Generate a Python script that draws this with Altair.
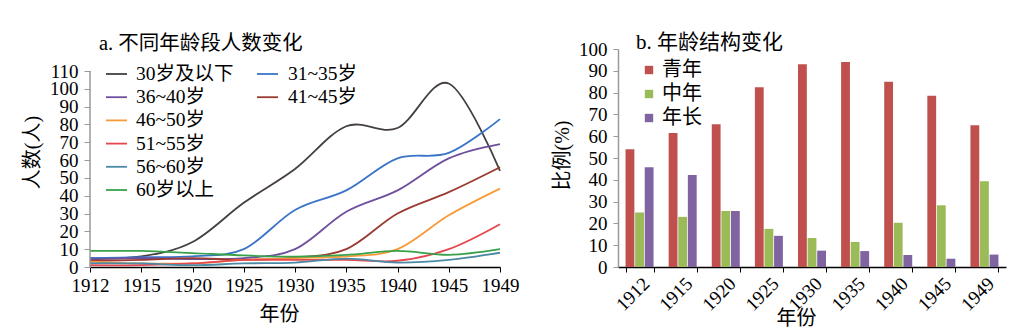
import altair as alt
import pandas as pd

FONT = "Liberation Serif, Noto Sans CJK SC"

# ---------------- data ----------------
years = ["1912", "1915", "1920", "1925", "1930", "1935", "1940", "1945", "1949"]

series_names = ["30岁及以下", "31~35岁", "36~40岁", "41~45岁",
                "46~50岁", "51~55岁", "56~60岁", "60岁以上"]
s_30 = [5, 6, 14, 36, 55, 79, 78, 103, 54]
s_31_35 = [5, 5.5, 6, 10, 32, 43, 61, 64, 83]
s_36_40 = [4.3, 5, 4.5, 5, 10, 31, 43, 61, 69]
s_41_45 = [3.5, 4, 5, 4, 5.3, 10, 30, 42, 56]
s_46_50 = [3, 2, 2, 4, 5, 6, 10, 29, 44]
s_51_55 = [1, 1, 2, 4, 4, 4, 3.5, 10, 24]
s_56_60 = [2.2, 2, 1, 2, 2.5, 4.7, 2.5, 4, 8]
s_60p = [9, 9, 7.8, 6.5, 5.8, 6.8, 9, 6.8, 10]
series_values = [s_30, s_31_35, s_36_40, s_41_45, s_46_50, s_51_55, s_56_60, s_60p]
line_colors = ["#45403E", "#3A74C8", "#6E4F9E", "#9A3A30",
               "#F79A3A", "#E5474E", "#4A8AA6", "#38A24A"]

groups = ["青年", "中年", "年长"]
young = [54, 61.5, 65.5, 82.5, 93, 94, 85, 78.5, 65]
middle = [25, 23, 25.7, 17.5, 13.3, 11.5, 20.3, 28.3, 39.3]
older = [45.8, 42.2, 25.7, 14.3, 7.5, 7.3, 5.5, 3.8, 5.7]
bar_colors = ["#C0504D", "#9BBB59", "#8064A2"]

title_a = "a. 不同年龄段人数变化"
title_b = "b. 年龄结构变化"

Y_MAX_A = 110
PLOT_H = 218
LEFT_AXIS_H = 196  # pixel height of the 0..110 range

# ---------------- tables ----------------
df_lines = pd.DataFrame([
    {"年份": y, "系列": n, "人数": v}
    for n, vals in zip(series_names, series_values)
    for y, v in zip(years, vals)
])

leg_rows = []
for i, n in enumerate(series_names):
    if i < 4:
        col, row = i % 2, i // 2
    else:
        col, row = 0, i - 2
    leg_rows.append({"系列": n, "col": col, "row": row})
df_leg = pd.DataFrame(leg_rows)

df_bars = pd.DataFrame([
    {"年份": y, "组": g, "比例": v}
    for g, vals in zip(groups, [young, middle, older])
    for y, v in zip(years, vals)
])

color_lines = alt.Scale(domain=series_names, range=line_colors)
top_a = Y_MAX_A * PLOT_H / LEFT_AXIS_H
y_ticks_a = list(range(0, Y_MAX_A + 1, 10))

# ---------------- left panel ----------------
x_a = alt.X("年份:O", sort=years, scale=alt.Scale(type="point", padding=0),
            axis=alt.Axis(title="年份", labelAngle=0, labelFontSize=19, labelFont=FONT,
                          labelColor="#000", labelPadding=4, tickSize=5, tickColor="#000",
                          labelOverlap=False, labelAlign="center",
                          domainColor="#000", domainWidth=1.5, titleFont=FONT,
                          titleFontSize=20, titleFontWeight="normal", titleColor="#000",
                          titlePadding=9, titleX=189, titleAlign="center"))
y_a = alt.Y("人数:Q", scale=alt.Scale(domain=[0, top_a], nice=False),
            axis=alt.Axis(title="人数(人)", values=y_ticks_a, tickCount=len(y_ticks_a) + 1,
                          labelFontSize=19, labelFont=FONT, labelColor="#000",
                          labelPadding=6, tickSize=6, labelOverlap=False,
                          tickColor="#999", domain=False,
                          titleFont=FONT, titleFontSize=20, titleFontWeight="normal",
                          titleColor="#000", titlePadding=7, titleY=103))

lines = alt.Chart(df_lines).mark_line(interpolate="cardinal", strokeWidth=1.8).encode(
    x=x_a, y=y_a,
    color=alt.Color("系列:N", scale=color_lines, legend=None),
)

# the left y-axis line, drawn only over the 0..110 range
y_axis_line = alt.Chart(pd.DataFrame({"a": [0]})).mark_rule(
    color="#999", strokeWidth=1.5).encode(
    x=alt.datum(years[0], type="ordinal"),
    y=alt.datum(0, type="quantitative"),
    y2=alt.datum(Y_MAX_A),
)

leg_base = alt.Chart(df_leg).transform_calculate(
    x0="16 + datum.col * 151",
    x1="37 + datum.col * 151",
    xt="46 + datum.col * 152",
    yy="25 + datum.row * 23.2",
)
leg_rule = leg_base.mark_rule(strokeWidth=1.8).encode(
    x=alt.X("x0:Q", scale=None), x2="x1:Q",
    y=alt.Y("yy:Q", scale=None),
    color=alt.Color("系列:N", scale=color_lines, legend=None),
)
leg_text = leg_base.mark_text(align="left", baseline="middle", fontSize=19.5, font=FONT,
                              color="#000").encode(
    x=alt.X("xt:Q", scale=None), y=alt.Y("yy:Q", scale=None), text="系列:N")

t_a = alt.Chart(pd.DataFrame({"t": [title_a]})).mark_text(
    align="left", baseline="middle", fontSize=20.5, font=FONT, color="#000").encode(
    x=alt.value(9), y=alt.value(-5), text="t:N")

left = alt.layer(lines, y_axis_line, leg_rule, leg_text, t_a).properties(width=410, height=PLOT_H)

# ---------------- right panel ----------------
y_ticks_b = list(range(0, 101, 10))
bars = alt.Chart(df_bars).mark_bar().encode(
    x=alt.X("年份:N", sort=years, scale=alt.Scale(paddingInner=0.35, paddingOuter=0.175),
            axis=alt.Axis(title="年份", labelAngle=-45, labelFontSize=19, labelFont=FONT,
                          labelColor="#000", labelPadding=2, tickSize=5, tickColor="#000",
                          tickBand="extent", domainColor="#000", domainWidth=1.5,
                          titleFont=FONT, titleFontSize=20, titleFontWeight="normal",
                          titleColor="#000", titleY=41, titleX=178, titleAlign="center")),
    xOffset=alt.XOffset("组:N", sort=groups, scale=alt.Scale(paddingInner=0.08)),
    y=alt.Y("比例:Q", scale=alt.Scale(domain=[0, 100], nice=False),
            axis=alt.Axis(title="比例(%)", values=y_ticks_b, tickCount=len(y_ticks_b) + 1,
                          labelFontSize=19,
                          labelFont=FONT, labelColor="#000", labelPadding=6, tickSize=5,
                          labelOverlap=False, tickColor="#999", domainColor="#999",
                          domainWidth=1.5, titleFont=FONT, titleFontSize=20,
                          titleFontWeight="normal", titleColor="#000", titlePadding=6,
                          titleY=106)),
    color=alt.Color("组:N", sort=groups, scale=alt.Scale(domain=groups, range=bar_colors),
                    legend=alt.Legend(orient="none", legendX=21, legendY=11, title=None,
                                      symbolType="square", symbolSize=70, symbolStrokeWidth=0,
                                      labelFontSize=20, labelFont=FONT, labelColor="#000",
                                      rowPadding=4, labelOffset=3)),
)

t_b = alt.Chart(pd.DataFrame({"t": [title_b]})).mark_text(
    align="left", baseline="middle", fontSize=21, font=FONT, color="#000").encode(
    x=alt.value(18), y=alt.value(-6), text="t:N")

right = alt.layer(bars, t_b).properties(width=388, height=PLOT_H)

chart = alt.hconcat(left, right, spacing=33).resolve_scale(color="independent").properties(
    padding={"left": 22, "top": 32, "right": 5, "bottom": 5}
).configure_view(stroke=None).configure_axis(grid=False, labelOverlap=False)

chart.save("out.html", embed_options={"renderer": "svg", "actions": False})
